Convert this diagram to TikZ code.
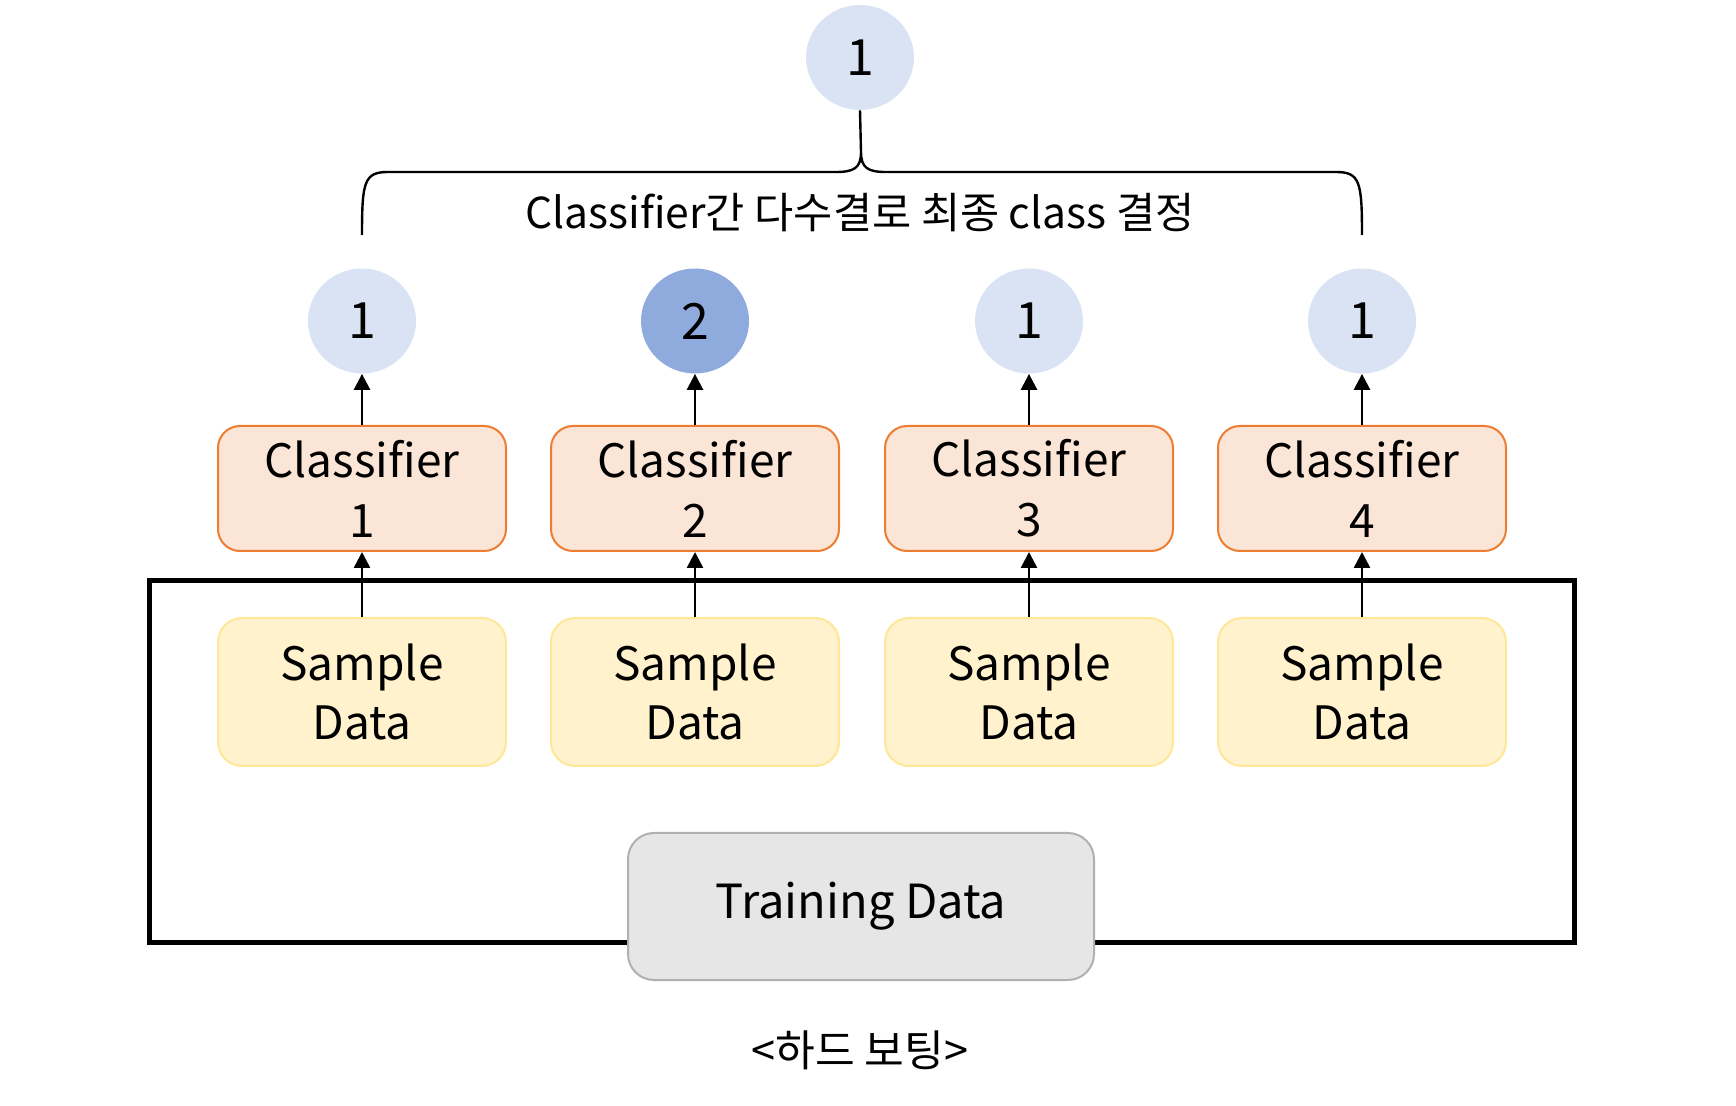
\documentclass[tikz,border=0pt]{standalone}
\usepackage{fontspec}
\setmainfont{Noto Sans CJK KR}
\usetikzlibrary{shapes.geometric,arrows.meta}

\definecolor{votelight}{HTML}{DAE3F3}
\definecolor{votedark}{HTML}{8FAADC}
\definecolor{clffill}{HTML}{FBE5D6}
\definecolor{clfdraw}{HTML}{ED7D31}
\definecolor{smpfill}{HTML}{FFF2CC}
\definecolor{smpdraw}{HTML}{FFE699}
\definecolor{trnfill}{HTML}{E6E6E6}
\definecolor{trndraw}{HTML}{B0B0B0}

\tikzset{
  vote/.style={ellipse, fill=votelight, minimum width=54pt, minimum height=52.5pt,
    inner sep=0pt, font=\fontsize{25}{30}\selectfont},
  votehi/.style={vote, fill=votedark},
  clfbox/.style={rectangle, rounded corners=11pt, draw=clfdraw, fill=clffill, line width=1pt,
    minimum width=144pt, minimum height=62.5pt, inner sep=0pt, align=center,
    font=\fontsize{23}{30}\selectfont},
  smpbox/.style={rectangle, rounded corners=12pt, draw=smpdraw, fill=smpfill, line width=1pt,
    minimum width=144pt, minimum height=74pt, inner sep=0pt, align=center,
    font=\fontsize{23}{29.5}\selectfont},
  trnbox/.style={rectangle, rounded corners=13pt, draw=trndraw, fill=trnfill, line width=1pt,
    minimum width=233pt, minimum height=73.5pt, inner sep=0pt,
    font=\fontsize{23.5}{30}\selectfont},
  vote arrow/.style={-{Triangle[length=8pt,width=8pt]}, line width=1.3pt},
}

\begin{document}
\begin{tikzpicture}[x=0.5pt,y=-0.5pt]
  \useasboundingbox (0,0) rectangle (1736,1106);
  % frame of the training set
  \draw[line width=2.5pt] (149,581) rectangle (1574,942);
  \node[trnbox] (train) at (861,906.5) {Training Data};
  % samples, classifiers and their votes
  \node[smpbox] (s1) at (362,692) {Sample\\Data};
  \node[smpbox] (s2) at (695,692) {Sample\\Data};
  \node[smpbox] (s3) at (1029,692) {Sample\\Data};
  \node[smpbox] (s4) at (1362,692) {Sample\\Data};
  \node[clfbox] (c1) at (362,488.5) {Classifier\\1};
  \node[clfbox] (c2) at (695,488.5) {Classifier\\2};
  \node[clfbox] (c3) at (1029,488.5) {Classifier\\3};
  \node[clfbox] (c4) at (1362,488.5) {Classifier\\4};
  \node[vote] (v1) at (362,321) {1};
  \node[votehi] (v2) at (695,321) {2};
  \node[vote] (v3) at (1029,321) {1};
  \node[vote] (v4) at (1362,321) {1};
  % majority vote
  \node[vote] (final) at (860,57.5) {1};
  \draw[line width=1.2pt] (362,235) .. controls (362,182) and (364,172) .. (388,172) -- (836,172)
    .. controls (854,172) and (861,168) .. (861,152) -- (final.south)
    (861,152) .. controls (861,168) and (868,172) .. (886,172) -- (1336,172)
    .. controls (1360,172) and (1362,182) .. (1362,235);
  \node[font=\fontsize{21.3}{25}\selectfont] (rule) at (860,213) {Classifier간 다수결로 최종 class 결정};
  \node[font=\fontsize{21.6}{25}\selectfont] (caption) at (860,1050) {<하드 보팅>};
  \path[vote arrow]
    (s1) edge (c1) (c1) edge (v1)
    (s2) edge (c2) (c2) edge (v2)
    (s3) edge (c3) (c3) edge (v3)
    (s4) edge (c4) (c4) edge (v4);
\end{tikzpicture}
\end{document}
